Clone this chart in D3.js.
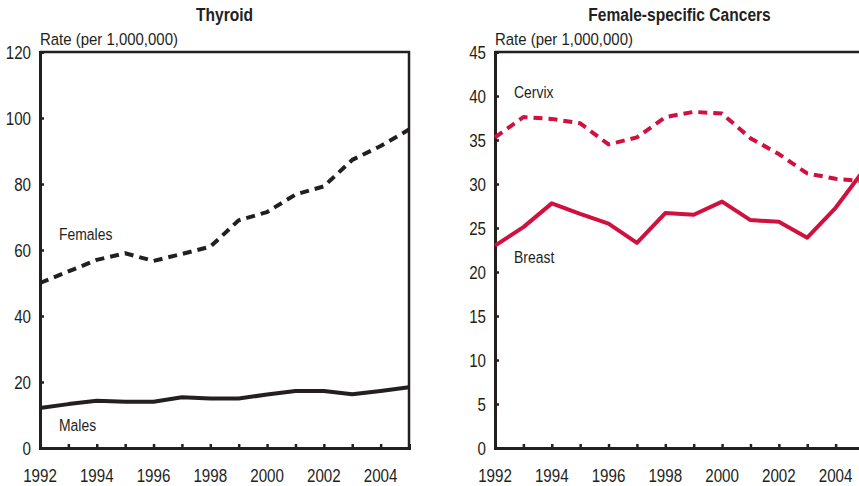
<!doctype html>
<html>
<head>
  <meta charset="utf8"/>
  <style>
    body { margin: 0; background: #fff; }
    svg { display: block; }
    text { font-family: 'Liberation Sans', Arial, sans-serif; fill: #231f20; }
  </style>
</head>
<body>
  <svg width="859" height="486"></svg>
  <script src="https://d3js.org/d3.v7.min.js"></script>
  <script>
    var years = d3.range(1992, 2006);
    var yearTicks = [1992, 1994, 1996, 1998, 2000, 2002, 2004];

    // Thyroid
    var thyroidFemales = [50.0, 53.5, 57.0, 59.0, 56.7, 58.8, 61.0, 69.0, 71.5, 76.8, 79.3, 87.3, 91.5, 96.5];
    var thyroidMales   = [12.1, 13.3, 14.3, 14.0, 14.0, 15.4, 15.0, 15.0, 16.2, 17.3, 17.3, 16.3, 17.3, 18.4];
    var thyroidTicks = [0, 20, 40, 60, 80, 100, 120];

    // Female-specific
    var cervix = [35.3, 37.6, 37.4, 36.9, 34.5, 35.3, 37.6, 38.2, 38.0, 35.2, 33.4, 31.2, 30.6, 30.3];
    var breast = [23.0, 25.1, 27.8, 26.6, 25.5, 23.3, 26.7, 26.5, 28.0, 25.9, 25.7, 23.9, 27.3, 31.6];
    var femaleTicks = [0, 5, 10, 15, 20, 25, 30, 35, 40, 45];

    var svg = d3.select('svg');
    var ink = '#231f20', red = '#d0103f';

    // condensed look: squeeze regular sans horizontally
    function label(g, x, y, str, size, anchor, bold, sx) {
      return g.append('text')
        .attr('transform', 'translate(' + x + ',' + y + ') scale(' + (sx || 0.82) + ',1)')
        .attr('text-anchor', anchor || 'start')
        .attr('font-size', size)
        .attr('font-weight', bold ? 'bold' : null)
        .text(str);
    }

    function panel(opts) {
      var x = d3.scaleLinear().domain([1992, 2005]).range([opts.left, opts.left + 369]);
      var y = d3.scaleLinear().domain([0, opts.max]).range([448, 52]);
      var g = svg.append('g');

      label(g, opts.left + 184.5, 21, opts.title, 19, 'middle', true);
      label(g, opts.left, 45, 'Rate (per 1,000,000)', 17, 'start', false, 0.88);

      // frame top + right
      g.append('path')
        .attr('d', 'M' + x(1992) + ',' + y(opts.max) + 'H' + x(2005) + 'V' + y(0))
        .attr('fill', 'none').attr('stroke', ink).attr('stroke-width', 2.5);

      var yAxis = g.append('g')
        .attr('transform', 'translate(' + x(1992) + ',0)')
        .call(d3.axisRight(y).tickValues(opts.ticks).tickSize(4).tickFormat(''));
      yAxis.select('.domain').attr('stroke', ink).attr('stroke-width', 3);
      yAxis.selectAll('.tick line').attr('stroke', ink).attr('stroke-width', 2.5);
      opts.ticks.forEach(function(d) {
        label(g, x(1992) - 9, y(d) + 6.5, d, 18.5, 'end');
      });

      var xAxis = g.append('g')
        .attr('transform', 'translate(0,' + y(0) + ')')
        .call(d3.axisTop(x).tickValues(years).tickSize(4).tickFormat(''));
      xAxis.select('.domain').attr('stroke', ink).attr('stroke-width', 3);
      xAxis.selectAll('.tick line').attr('stroke', ink).attr('stroke-width', 2.5);
      yearTicks.forEach(function(d) {
        label(g, x(d), 482, d, 18.5, 'middle');
      });

      var line = d3.line()
        .x(function(d, i) { return x(years[i]); })
        .y(function(d) { return y(d); });

      opts.series.forEach(function(s) {
        g.append('path')
          .datum(s.values)
          .attr('d', line)
          .attr('fill', 'none')
          .attr('stroke', s.color)
          .attr('stroke-width', 4)
          .attr('stroke-linejoin', 'round')
          .attr('stroke-dasharray', s.dashed ? '9,6' : null);
        label(g, x(1992) + 19, y(s.labelAt) + 6, s.name, 17);
      });
    }

    panel({
      left: 40, max: 120, ticks: thyroidTicks, title: 'Thyroid',
      series: [
        {name: 'Females', values: thyroidFemales, color: ink, dashed: true, labelAt: 65},
        {name: 'Males', values: thyroidMales, color: ink, dashed: false, labelAt: 7}
      ]
    });

    panel({
      left: 495, max: 45, ticks: femaleTicks, title: 'Female-specific Cancers',
      series: [
        {name: 'Cervix', values: cervix, color: red, dashed: true, labelAt: 40.4},
        {name: 'Breast', values: breast, color: red, dashed: false, labelAt: 21.7}
      ]
    });
  </script>
</body>
</html>
